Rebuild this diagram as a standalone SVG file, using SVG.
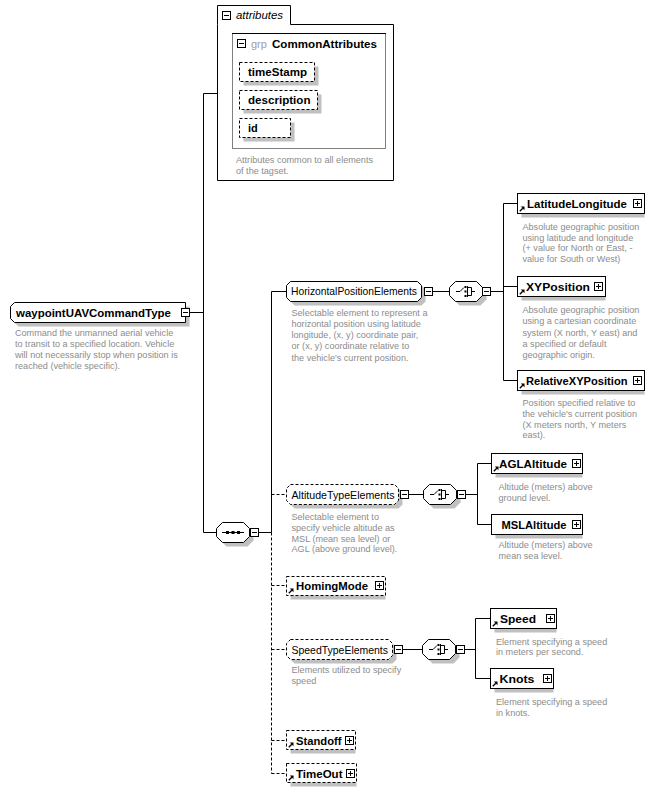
<svg xmlns="http://www.w3.org/2000/svg" xmlns:xlink="http://www.w3.org/1999/xlink" width="654" height="793" viewBox="0 0 654 793">
<style>
.box{fill:#fff;stroke:#000;stroke-width:1}
.dash{stroke-dasharray:3 2}
.shadow{fill:#c0c0c0;stroke:none}
.conn{stroke:#000;stroke-width:1;fill:none}
.lbl{font-family:"Liberation Sans",Arial,sans-serif;font-size:11px;font-weight:bold;fill:#000}
.reg{font-family:"Liberation Sans",Arial,sans-serif;font-size:10.5px;fill:#000}
.desc{font-family:"Liberation Sans",Arial,sans-serif;font-size:9.1px;fill:#8c8c8c}
</style>
<defs>
<g id="minus"><rect x="0.5" y="0.5" width="8" height="8" fill="#fff" stroke="#000"/><path d="M2 4.5H7" stroke="#000"/></g>
<g id="plus"><rect x="0.5" y="0.5" width="8" height="8" fill="#fff" stroke="#000"/><path d="M2 4.5H7M4.5 2V7" stroke="#000"/></g>
<g id="ref"><path d="M0.8,5.2 L3.8,2.2" stroke="#000" stroke-width="1.3"/><path d="M1.8,0.5 H5.5 V4.2 Z" fill="#000"/></g>
<path id="comp" d="M6.5,0.5 H27.5 L33.5,6.5 V14.5 L27.5,20.5 H6.5 L0.5,14.5 V6.5 Z"/>
<g id="choiceIcon" stroke="#000" fill="none">
<path d="M7,10.5 H11 L15,6.5"/>
<rect x="15.5" y="5" width="2" height="2" fill="#000" stroke="none"/>
<rect x="15.5" y="9.5" width="2" height="2" fill="#000" stroke="none"/>
<rect x="15.5" y="14" width="2" height="2" fill="#000" stroke="none"/>
<path d="M18.5,5 V16 M18.5,6.5 H22.5 V14.5 H18.5 M22.5,10.5 H26"/>
</g>
<g id="seqIcon"><path d="M6,10.5 H28" stroke="#000"/><rect x="10" y="9" width="3" height="3" fill="#000"/><rect x="15.5" y="9" width="3" height="3" fill="#000"/><rect x="21" y="9" width="3" height="3" fill="#000"/></g>
</defs>

<g id="connectors">
<path class="conn" d="M190,312.5 H203.5 M203.5,93.5 V532.5 M203.5,93.5 H217 M203.5,532.5 H216"/>
<path class="conn" d="M259,532.5 H271.5 M271.5,291.5 V532.5 M271.5,291.5 H286"/>
<path class="conn dash" d="M271.5,532.5 V773.5 M271.5,494.5 H286 M271.5,585.5 H286 M271.5,649.5 H286 M271.5,740.5 H286 M271.5,773.5 H286"/>
<path class="conn" d="M433,291.5 H449 M491,291.5 H503.5 M503.5,203.5 V380.5 M503.5,203.5 H517 M503.5,286.5 H517 M503.5,380.5 H517"/>
<path class="conn" d="M409,494.5 H423 M466,494.5 H477.5 M477.5,463.5 V524.5 M477.5,463.5 H491 M477.5,524.5 H491"/>
<path class="conn" d="M403,649.5 H422 M464,649.5 H475.5 M475.5,618.5 V678.5 M475.5,618.5 H490 M475.5,678.5 H490"/>
</g>

<g id="waypointUAVCommandType">
<path class="shadow" transform="translate(4,4)" d="M14.5,302.5 H185.5 V322.5 H14.5 L10.5,318.5 V306.5 Z"/>
<path class="box" d="M14.5,302.5 H185.5 V322.5 H14.5 L10.5,318.5 V306.5 Z"/>
<text class="lbl" x="16" y="316.5" textLength="155" lengthAdjust="spacingAndGlyphs">waypointUAVCommandType</text>
<use xlink:href="#minus" href="#minus" x="181" y="308"/>
<text class="desc" x="15" y="336"><tspan x="15" y="336">Command the unmanned aerial vehicle</tspan><tspan x="15" y="347">to transit to a specified location.  Vehicle</tspan><tspan x="15" y="358">will not necessarily stop when position is</tspan><tspan x="15" y="369">reached (vehicle specific).</tspan></text>
</g>

<g id="attributes">
<path class="box" d="M217.5,24.5 V5.5 H290.5 V24.5 H393.5 V180.5 H217.5 Z"/>
<use xlink:href="#minus" href="#minus" x="222" y="11"/>
<text x="236" y="19" font-family="Liberation Sans, Arial, sans-serif" font-size="11" font-style="italic" textLength="47" lengthAdjust="spacingAndGlyphs">attributes</text>
<rect x="232.5" y="33.5" width="153" height="115" fill="none" stroke="#808080"/>
<path d="M232,33.5 H386" stroke="#000"/>
<use xlink:href="#minus" href="#minus" x="237" y="39"/>
<text x="251" y="47.5" font-family="Liberation Sans, Arial, sans-serif" font-size="11" fill="#a0a0a0">grp</text>
<text class="lbl" x="272" y="47.5" textLength="105" lengthAdjust="spacingAndGlyphs">CommonAttributes</text>
<text class="desc" x="236" y="163"><tspan x="236" y="163">Attributes common to all elements</tspan><tspan x="236" y="174">of the tagset.</tspan></text>
</g>
<g id="timeStamp">
<rect class="shadow" x="243.5" y="66.5" width="75" height="19"/>
<rect class="box dash" x="239.5" y="62.5" width="75" height="19"/>
<text class="lbl" x="248" y="76" textLength="59" lengthAdjust="spacingAndGlyphs">timeStamp</text>
</g>
<g id="description">
<rect class="shadow" x="243.5" y="94.5" width="78" height="19"/>
<rect class="box dash" x="239.5" y="90.5" width="78" height="19"/>
<text class="lbl" x="248" y="104" textLength="62.5" lengthAdjust="spacingAndGlyphs">description</text>
</g>
<g id="id">
<rect class="shadow" x="243.5" y="122.5" width="51" height="19"/>
<rect class="box dash" x="239.5" y="118.5" width="51" height="19"/>
<text class="lbl" x="248" y="132">id</text>
</g>

<g id="sequence">
<use xlink:href="#comp" href="#comp" class="shadow" transform="translate(220,526)"/>
<use xlink:href="#comp" href="#comp" class="box" transform="translate(216,522)"/>
<use xlink:href="#seqIcon" href="#seqIcon" transform="translate(216,522)"/>
<use xlink:href="#minus" href="#minus" x="250" y="528"/>
</g>

<g id="HorizontalPositionElements">
<path class="shadow" transform="translate(4,4)" d="M290.5,281.5 H417.5 L421.5,285.5 V297.5 L417.5,301.5 H290.5 L286.5,297.5 V285.5 Z"/>
<path class="box" d="M290.5,281.5 H417.5 L421.5,285.5 V297.5 L417.5,301.5 H290.5 L286.5,297.5 V285.5 Z"/>
<text class="reg" x="291" y="295" textLength="126" lengthAdjust="spacingAndGlyphs">HorizontalPositionElements</text>
<use xlink:href="#minus" href="#minus" x="424" y="287"/>
<text class="desc" x="291.5" y="316"><tspan x="291.5" y="316">Selectable element to represent a</tspan><tspan x="291.5" y="327">horizontal position using latitude</tspan><tspan x="291.5" y="338">longitude, (x, y) coordinate pair,</tspan><tspan x="291.5" y="349">or (x, y) coordinate relative to</tspan><tspan x="291.5" y="360.5">the vehicle's current position.</tspan></text>
</g>
<g id="choice1">
<use xlink:href="#comp" href="#comp" class="shadow" transform="translate(453,285)"/>
<use xlink:href="#comp" href="#comp" class="box" transform="translate(449,281)"/>
<use xlink:href="#choiceIcon" href="#choiceIcon" transform="translate(449,281)"/>
<use xlink:href="#minus" href="#minus" x="482" y="287"/>
</g>

<g id="LatitudeLongitude">
<rect class="shadow" x="521.5" y="197.5" width="123" height="20"/>
<rect class="box" x="517.5" y="193.5" width="127" height="20"/>
<use xlink:href="#ref" href="#ref" x="519" y="206"/>
<text class="lbl" x="527" y="207.5" textLength="100" lengthAdjust="spacingAndGlyphs">LatitudeLongitude</text>
<use xlink:href="#plus" href="#plus" x="633" y="199"/>
<text class="desc" x="522.5" y="229.5"><tspan x="522.5" y="229.5">Absolute geographic position</tspan><tspan x="522.5" y="240.5">using latitude and longitude</tspan><tspan x="522.5" y="251">(+ value for North or East, -</tspan><tspan x="522.5" y="262">value for South or West)</tspan></text>
</g>
<g id="XYPosition">
<rect class="shadow" x="521.5" y="280.5" width="84" height="20"/>
<rect class="box" x="517.5" y="276.5" width="88" height="20"/>
<use xlink:href="#ref" href="#ref" x="519" y="289"/>
<text class="lbl" x="526" y="290.5" textLength="64" lengthAdjust="spacingAndGlyphs">XYPosition</text>
<use xlink:href="#plus" href="#plus" x="594" y="282"/>
<text class="desc" x="522.5" y="313"><tspan x="522.5" y="313">Absolute geographic position</tspan><tspan x="522.5" y="324">using a cartesian coordinate</tspan><tspan x="522.5" y="335.5">system (X north, Y east) and</tspan><tspan x="522.5" y="346.5">a specified or default</tspan><tspan x="522.5" y="357.5">geographic origin.</tspan></text>
</g>
<g id="RelativeXYPosition">
<rect class="shadow" x="521.5" y="374.5" width="123" height="20"/>
<rect class="box" x="517.5" y="370.5" width="127" height="20"/>
<use xlink:href="#ref" href="#ref" x="519" y="383"/>
<text class="lbl" x="526" y="384.5" textLength="101.5" lengthAdjust="spacingAndGlyphs">RelativeXYPosition</text>
<use xlink:href="#plus" href="#plus" x="633" y="376"/>
<text class="desc" x="522.5" y="405.5"><tspan x="522.5" y="405.5">Position specified relative to</tspan><tspan x="522.5" y="416.5">the vehicle's current position</tspan><tspan x="522.5" y="427.5">(X meters north, Y meters</tspan><tspan x="522.5" y="438">east).</tspan></text>
</g>

<g id="AltitudeTypeElements">
<path class="shadow" transform="translate(4,4)" d="M290.5,484.5 H394.5 L398.5,488.5 V500.5 L394.5,504.5 H290.5 L286.5,500.5 V488.5 Z"/>
<path class="box dash" d="M290.5,484.5 H394.5 L398.5,488.5 V500.5 L394.5,504.5 H290.5 L286.5,500.5 V488.5 Z"/>
<text class="reg" x="291.5" y="498.5" textLength="103" lengthAdjust="spacingAndGlyphs">AltitudeTypeElements</text>
<use xlink:href="#minus" href="#minus" x="400" y="490"/>
<text class="desc" x="291.5" y="519.5"><tspan x="291.5" y="519.5">Selectable element to</tspan><tspan x="291.5" y="530.5">specify vehicle altitude as</tspan><tspan x="291.5" y="541.5">MSL (mean sea level) or</tspan><tspan x="291.5" y="552">AGL (above ground level).</tspan></text>
</g>
<g id="choice2">
<use xlink:href="#comp" href="#comp" class="shadow" transform="translate(427,488)"/>
<use xlink:href="#comp" href="#comp" class="box" transform="translate(423,484)"/>
<use xlink:href="#choiceIcon" href="#choiceIcon" transform="translate(423,484)"/>
<use xlink:href="#minus" href="#minus" x="457" y="490"/>
</g>
<g id="AGLAltitude">
<rect class="shadow" x="495.5" y="457.5" width="87" height="20"/>
<rect class="box" x="491.5" y="453.5" width="91" height="20"/>
<use xlink:href="#ref" href="#ref" x="493" y="466"/>
<text class="lbl" x="499" y="467.5" textLength="68" lengthAdjust="spacingAndGlyphs">AGLAltitude</text>
<use xlink:href="#plus" href="#plus" x="572" y="459"/>
<text class="desc" x="498.5" y="489.5"><tspan x="498.5" y="489.5">Altitude (meters) above</tspan><tspan x="498.5" y="500.5">ground level.</tspan></text>
</g>
<g id="MSLAltitude">
<rect class="shadow" x="495.5" y="518.5" width="87" height="20"/>
<rect class="box" x="491.5" y="514.5" width="91" height="20"/>
<text class="lbl" x="501.5" y="528.5" textLength="65" lengthAdjust="spacingAndGlyphs">MSLAltitude</text>
<use xlink:href="#plus" href="#plus" x="572" y="520"/>
<text class="desc" x="498.5" y="548"><tspan x="498.5" y="548">Altitude (meters) above</tspan><tspan x="498.5" y="559">mean sea level.</tspan></text>
</g>

<g id="HomingMode">
<rect class="shadow" x="290.5" y="580.5" width="95" height="19"/>
<rect class="box dash" x="286.5" y="576.5" width="99" height="19"/>
<use xlink:href="#ref" href="#ref" x="288" y="588"/>
<text class="lbl" x="296" y="590" textLength="72" lengthAdjust="spacingAndGlyphs">HomingMode</text>
<use xlink:href="#plus" href="#plus" x="375" y="581"/>
</g>

<g id="SpeedTypeElements">
<path class="shadow" transform="translate(4,4)" d="M290.5,639.5 H388.5 L392.5,643.5 V655.5 L388.5,659.5 H290.5 L286.5,655.5 V643.5 Z"/>
<path class="box dash" d="M290.5,639.5 H388.5 L392.5,643.5 V655.5 L388.5,659.5 H290.5 L286.5,655.5 V643.5 Z"/>
<text class="reg" x="291.5" y="653.5" textLength="96.5" lengthAdjust="spacingAndGlyphs">SpeedTypeElements</text>
<use xlink:href="#minus" href="#minus" x="394" y="645"/>
<text class="desc" x="291.5" y="673"><tspan x="291.5" y="673">Elements utilized to specify</tspan><tspan x="291.5" y="684">speed</tspan></text>
</g>
<g id="choice3">
<use xlink:href="#comp" href="#comp" class="shadow" transform="translate(426,643)"/>
<use xlink:href="#comp" href="#comp" class="box" transform="translate(422,639)"/>
<use xlink:href="#choiceIcon" href="#choiceIcon" transform="translate(422,639)"/>
<use xlink:href="#minus" href="#minus" x="456" y="645"/>
</g>
<g id="Speed">
<rect class="shadow" x="494.5" y="612.5" width="62" height="20"/>
<rect class="box" x="490.5" y="608.5" width="66" height="20"/>
<use xlink:href="#ref" href="#ref" x="492" y="621"/>
<text class="lbl" x="500" y="622.5" textLength="36" lengthAdjust="spacingAndGlyphs">Speed</text>
<use xlink:href="#plus" href="#plus" x="546" y="614"/>
<text class="desc" x="496" y="644.5"><tspan x="496" y="644.5">Element specifying a speed</tspan><tspan x="496" y="655">in meters per second.</tspan></text>
</g>
<g id="Knots">
<rect class="shadow" x="494.5" y="672.5" width="59" height="20"/>
<rect class="box" x="490.5" y="668.5" width="63" height="20"/>
<use xlink:href="#ref" href="#ref" x="492" y="681"/>
<text class="lbl" x="499.5" y="682.5" textLength="35" lengthAdjust="spacingAndGlyphs">Knots</text>
<use xlink:href="#plus" href="#plus" x="543" y="674"/>
<text class="desc" x="496" y="705"><tspan x="496" y="705">Element specifying a speed</tspan><tspan x="496" y="716">in knots.</tspan></text>
</g>

<g id="Standoff">
<rect class="shadow" x="290.5" y="734.5" width="65" height="19"/>
<rect class="box dash" x="286.5" y="730.5" width="69" height="19"/>
<use xlink:href="#ref" href="#ref" x="288" y="742"/>
<text class="lbl" x="296" y="744.5" textLength="45.5" lengthAdjust="spacingAndGlyphs">Standoff</text>
<use xlink:href="#plus" href="#plus" x="345" y="736"/>
</g>
<g id="TimeOut">
<rect class="shadow" x="290.5" y="767.5" width="66" height="19"/>
<rect class="box dash" x="286.5" y="763.5" width="70" height="19"/>
<use xlink:href="#ref" href="#ref" x="288" y="775"/>
<text class="lbl" x="296" y="777.5" textLength="46.5" lengthAdjust="spacingAndGlyphs">TimeOut</text>
<use xlink:href="#plus" href="#plus" x="346" y="769"/>
</g>
</svg>
